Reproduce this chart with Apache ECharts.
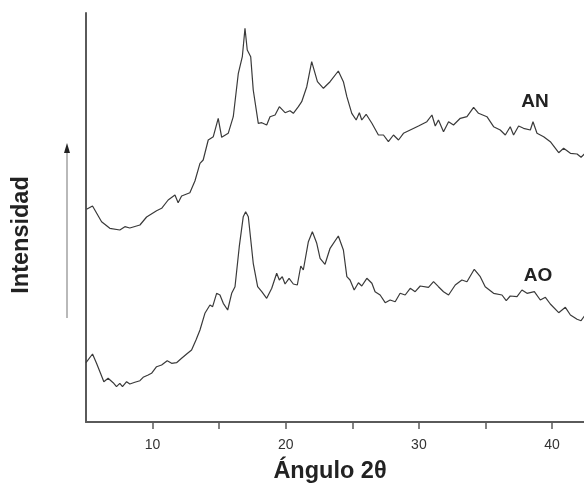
<!DOCTYPE html>
<html>
<head>
<meta charset="utf-8">
<script src="https://cdn.jsdelivr.net/npm/echarts@6/dist/echarts.min.js"></script>
<style>html,body{margin:0;padding:0;background:#fff}#c{width:584px;height:485px}</style>
</head>
<body>
<div id="c"></div>
<script>
// 2θ values and intensities (arbitrary units) for sample AN
const anTheta = [5.04,5.49,6.17,6.79,7.54,7.92,8.29,9.05,9.55,10.30,10.68,11.17,11.68,11.92,12.18,12.80,13.18,13.56,13.80,14.18,14.56,14.93,15.19,15.68,16.06,16.44,16.74,16.94,17.11,17.37,17.56,17.94,18.20,18.57,18.82,19.20,19.52,19.95,20.32,20.57,20.95,21.20,21.58,21.95,22.38,22.83,23.33,23.95,24.33,24.59,24.96,25.29,25.53,25.71,26.04,26.47,26.96,27.34,27.71,28.09,28.47,28.84,29.35,29.97,30.60,30.98,31.23,31.47,31.85,32.23,32.60,33.11,33.61,34.11,34.48,35.11,35.61,36.11,36.49,36.86,37.11,37.49,37.86,38.37,38.57,38.87,39.37,39.87,40.50,40.87,41.38,41.88,42.18,42.43];
const anInt = [212.7,216,200.3,193.7,192,195.3,194,197,205,211.3,213.7,222,227,219.3,226,229.3,241,258.7,262,282,285.3,303.7,284.7,288.7,305.3,348.7,365.3,393.7,372,365.3,332,298.7,299.3,297,305.3,307,315.3,309.3,311.3,308.7,315.3,320.3,335.3,360.3,340.3,333.7,340.3,351,340.3,325.3,308.7,302,309.3,302,307.7,298.7,287,287,280.3,287,282,288.7,292,296,300.3,307,296,302,290.3,300.3,297,303.7,305.3,314.7,308.7,305.3,295.3,292,287,295.3,287,296,293.7,292,300.3,288.7,285.3,280.3,269.3,273.7,268.7,268,264.7,268];
// 2θ values and intensities (arbitrary units) for sample AO
const aoTheta = [5.0,5.49,5.79,6.09,6.34,6.66,7.04,7.29,7.54,7.74,8.05,8.29,8.67,9.05,9.29,9.67,9.92,10.30,10.68,11.10,11.43,11.80,12.18,12.56,12.93,13.26,13.56,13.93,14.31,14.51,14.81,15.06,15.31,15.64,15.94,16.19,16.51,16.81,16.99,17.19,17.56,17.89,18.20,18.57,18.95,19.32,19.52,19.74,19.95,20.25,20.57,20.87,21.13,21.32,21.70,22.00,22.33,22.58,22.95,23.33,23.95,24.33,24.59,24.83,25.14,25.46,25.71,26.09,26.47,26.71,27.09,27.47,27.84,28.22,28.59,28.97,29.35,29.72,30.10,30.72,31.10,31.47,31.85,32.23,32.73,33.23,33.61,34.16,34.61,34.98,35.61,36.24,36.56,36.86,37.37,37.74,38.12,38.67,39.12,39.50,39.87,40.50,41.00,41.38,41.88,42.18,42.43];
const aoInt = [59.3,68,58.7,48.7,40.3,43.7,39.3,35.3,38.7,35.3,40.3,38,39.7,41.3,44.7,47,48.7,55.3,57,61.3,58.7,59.3,63.7,68,72,82,92,108.7,117,115.3,128.7,127,118.7,112,128.7,135.3,175.3,205.3,210.3,205.3,158.7,135.3,130.3,123.7,133.7,148.7,142,145.3,138,143.7,138,137,156,152,180.3,190.3,178.7,163.7,157.7,173.7,186,172,145.3,142,132,139.3,136,143.7,138.7,130.3,127,119.3,122,120.3,128.7,127,133.7,130.3,136,134.7,140.3,135.3,130.3,127,137,142,140.3,152.7,145.3,135.3,128.7,127,121.3,126,125.3,132,128.7,130.3,122,124.7,118,109.3,114.7,107,102.7,101.3,106];
const xTicks = [10, 20, 30, 40];
const seriesNames = ['AN', 'AO'];
const xTitle = 'Ángulo 2θ';
const yTitle = 'Intensidad';

const zip = (a, b) => a.map((v, i) => [v, b[i]]);
const chart = echarts.init(document.getElementById('c'), null, {renderer: 'canvas'});
const FONT = 'Liberation Sans, Arial, sans-serif';
const axisCol = '#5a5a5a';
chart.setOption({
  animation: false,
  backgroundColor: '#fff',
  grid: {left: 86, right: 0, top: 13, bottom: 63, containLabel: false},
  xAxis: {
    type: 'value', min: 5, max: 42.4, interval: 5,
    axisLine: {show: true, onZero: false, lineStyle: {color: axisCol, width: 2}},
    axisTick: {show: true, inside: false, length: 7, lineStyle: {color: axisCol, width: 1.5}},
    axisLabel: {
      margin: 16, fontFamily: FONT, fontSize: 14, color: '#333',
      showMinLabel: false, showMaxLabel: false,
      formatter: v => xTicks.includes(v) ? String(v) : ''
    },
    splitLine: {show: false}
  },
  yAxis: {
    type: 'value', min: 0, max: 409,
    axisLine: {show: true, lineStyle: {color: axisCol, width: 2}},
    axisTick: {show: false}, axisLabel: {show: false}, splitLine: {show: false}
  },
  series: [
    {name: seriesNames[0], type: 'line', data: zip(anTheta, anInt), showSymbol: false, smooth: false,
     lineStyle: {color: '#3a3a3a', width: 1.2}, clip: true},
    {name: seriesNames[1], type: 'line', data: zip(aoTheta, aoInt), showSymbol: false, smooth: false,
     lineStyle: {color: '#3a3a3a', width: 1.2}, clip: true}
  ],
  graphic: [
    {type: 'line', shape: {x1: 67, y1: 318, x2: 67, y2: 151}, style: {stroke: '#8a8a8a', lineWidth: 1.2}},
    {type: 'polygon', shape: {points: [[64, 153], [70, 153], [67, 143]]}, style: {fill: '#222'}},
    {type: 'text', x: 535, y: 102, style: {text: seriesNames[0], font: 'bold 19px ' + FONT, fill: '#222', align: 'center', verticalAlign: 'middle'}},
    {type: 'text', x: 538, y: 276, style: {text: seriesNames[1], font: 'bold 19px ' + FONT, fill: '#222', align: 'center', verticalAlign: 'middle'}},
    {type: 'text', x: 330, y: 472, style: {text: xTitle, font: 'bold 23.5px ' + FONT, fill: '#222', align: 'center', verticalAlign: 'middle'}},
    {type: 'text', x: 22, y: 235, rotation: Math.PI / 2, style: {text: yTitle, font: 'bold 23.5px ' + FONT, fill: '#222', align: 'center', verticalAlign: 'middle'}}
  ]
});
</script>
</body>
</html>
